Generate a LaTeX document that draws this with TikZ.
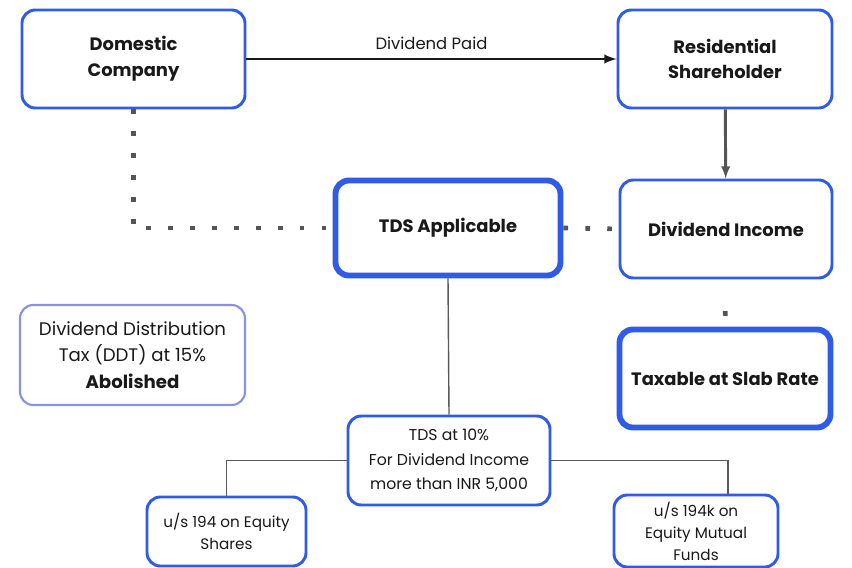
\documentclass[tikz,border=0pt]{standalone}
\usepackage{fontspec}
\setmainfont{Poppins}
\definecolor{boxblue}{HTML}{2F5BE6}
\definecolor{paleblue}{HTML}{8A90E4}
\definecolor{linkgray}{HTML}{555555}

\begin{document}
\begin{tikzpicture}[x=0.03cm, y=-0.03cm,
    box/.style={rectangle, draw=boxblue, line width=2.5pt, rounded corners=0.4cm,
                fill=white, align=center, text=black!90, inner sep=2pt,
                font=\fontsize{15.3}{22}\selectfont\bfseries},
    heavybox/.style={box, line width=5pt},
    notebox/.style={box, draw=paleblue, line width=1.8pt, font=\fontsize{15.5}{22.5}\selectfont},
    smallbox/.style={box, font=\fontsize{13}{18.7}\selectfont},
    paid/.style={-latex, line width=2.5pt, black!90},
    down/.style={-latex, line width=2.5pt, linkgray},
    dotline/.style={line width=4pt, linkgray, dash pattern=on 4pt off 14.7pt},
    branch/.style={line width=1.2pt, black!65}
]
\useasboundingbox (0,0) rectangle (852,567);

% top row
\node[box, minimum width=6.69cm, minimum height=2.94cm] (domco) at (133.5,59) {Domestic\\Company};
\node[box, minimum width=6.42cm, minimum height=2.94cm] (resholder) at (725,59) {Residential\\Shareholder};

% middle row
\node[heavybox, minimum width=6.75cm, minimum height=2.85cm] (tdsapp) at (448,228) {TDS Applicable};
\node[box, minimum width=6.36cm, minimum height=2.94cm] (divinc) at (726,229) {Dividend Income};
\node[notebox, minimum width=6.75cm, minimum height=3.0cm] (ddt) at (132.5,355)
    {Dividend Distribution\\Tax (DDT) at 15\%\\\textbf{Abolished}};
\node[heavybox, minimum width=6.33cm, minimum height=2.94cm] (slab) at (725,378.5) {Taxable at Slab Rate};

% bottom
\node[box, font=\fontsize{13.4}{21}\selectfont, minimum width=6.06cm, minimum height=2.67cm] (tds10) at (449,460.5)
    {TDS at 10\%\\For Dividend Income\\more than INR 5,000};
\node[smallbox, minimum width=4.77cm, minimum height=2.07cm] (us194) at (226.5,531.5) {u/s 194 on Equity\\Shares};
\node[smallbox, minimum width=4.92cm, minimum height=2.16cm] (us194k) at (696,531) {u/s 194k on\\Equity Mutual\\Funds};

% links
\draw[paid] (domco) -- node[above=3pt, font=\fontsize{14}{16}\selectfont, black!90] {Dividend Paid} (resholder);
\draw[down] (resholder) -- (divinc);
\draw[dotline] (domco.south) |- (tdsapp.west);
\draw[dotline] (tdsapp.east) -- (divinc.west);
\draw[dotline, dash pattern=on 4pt off 40pt, dash phase=17pt] (divinc.south) -- (slab.north);
\draw[branch] (tdsapp.south) -- (tds10.north);
\draw[branch] (tds10.west) -| (us194.north);
\draw[branch] (tds10.east) -| ([xshift=0.96cm]us194k.north);
\end{tikzpicture}
\end{document}
